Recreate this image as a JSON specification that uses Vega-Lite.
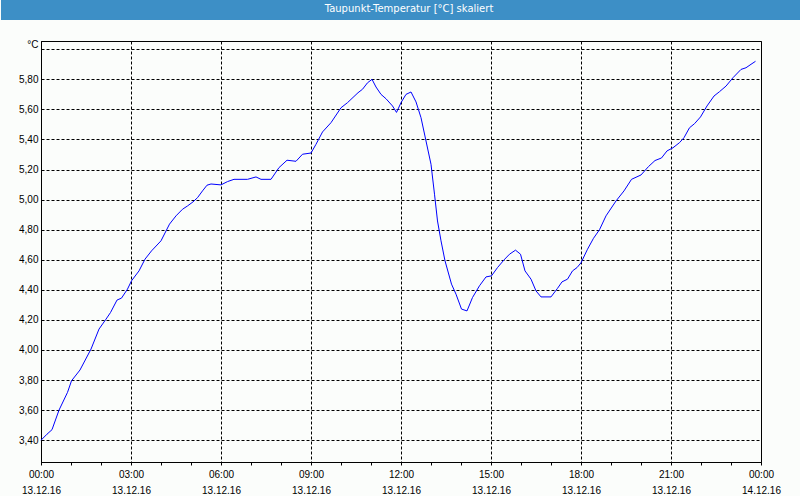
{
  "$schema": "https://vega.github.io/schema/vega-lite/v6.json",
  "padding": 0,
  "spacing": 18,
  "background": "#fbfdfb",
  "vconcat": [
    {
      "width": 720,
      "height": 20,
      "view": {"stroke": null},
      "data": {"values": [{"title": "Taupunkt-Temperatur [°C] skaliert"}]},
      "layer": [
        {
          "mark": {"type": "rect", "color": "#3d8fc6", "xOffset": -40, "x2Offset": 40},
          "encoding": {
            "x": {"datum": 0, "type": "quantitative", "scale": {"domain": [0, 1], "nice": false, "zero": false}, "axis": null},
            "x2": {"datum": 1}
          }
        },
        {
          "mark": {"type": "text", "color": "#ffffff", "font": "DejaVu Sans", "fontSize": 10, "dx": 8, "dy": -1, "baseline": "middle", "align": "center"},
          "encoding": {
            "x": {"datum": 0.5, "type": "quantitative"},
            "text": {"field": "title", "type": "nominal"}
          }
        }
      ]
    },
    {
      "width": 720,
      "height": 421,
      "view": {"fill": "#fbfdfb", "stroke": "#000000", "strokeWidth": 1},
      "data": {"values": [
        {"t": "2016-12-13T00:00", "v": 3.40},
        {"t": "2016-12-13T00:12", "v": 3.44},
        {"t": "2016-12-13T00:22", "v": 3.47},
        {"t": "2016-12-13T00:36", "v": 3.60},
        {"t": "2016-12-13T00:53", "v": 3.718},
        {"t": "2016-12-13T01:01", "v": 3.795},
        {"t": "2016-12-13T01:18", "v": 3.867},
        {"t": "2016-12-13T01:40", "v": 4.006},
        {"t": "2016-12-13T01:56", "v": 4.139},
        {"t": "2016-12-13T02:10", "v": 4.205},
        {"t": "2016-12-13T02:19", "v": 4.249},
        {"t": "2016-12-13T02:32", "v": 4.332},
        {"t": "2016-12-13T02:41", "v": 4.345},
        {"t": "2016-12-13T02:53", "v": 4.405},
        {"t": "2016-12-13T03:01", "v": 4.46},
        {"t": "2016-12-13T03:16", "v": 4.526},
        {"t": "2016-12-13T03:28", "v": 4.604},
        {"t": "2016-12-13T03:41", "v": 4.659},
        {"t": "2016-12-13T04:00", "v": 4.726},
        {"t": "2016-12-13T04:17", "v": 4.837},
        {"t": "2016-12-13T04:30", "v": 4.892},
        {"t": "2016-12-13T04:43", "v": 4.936},
        {"t": "2016-12-13T04:53", "v": 4.958},
        {"t": "2016-12-13T05:04", "v": 4.985},
        {"t": "2016-12-13T05:13", "v": 5.013},
        {"t": "2016-12-13T05:23", "v": 5.058},
        {"t": "2016-12-13T05:32", "v": 5.096},
        {"t": "2016-12-13T05:40", "v": 5.104},
        {"t": "2016-12-13T06:00", "v": 5.098},
        {"t": "2016-12-13T06:13", "v": 5.12},
        {"t": "2016-12-13T06:26", "v": 5.135},
        {"t": "2016-12-13T06:53", "v": 5.135},
        {"t": "2016-12-13T07:10", "v": 5.151},
        {"t": "2016-12-13T07:20", "v": 5.135},
        {"t": "2016-12-13T07:40", "v": 5.135},
        {"t": "2016-12-13T07:56", "v": 5.213},
        {"t": "2016-12-13T08:12", "v": 5.262},
        {"t": "2016-12-13T08:30", "v": 5.255},
        {"t": "2016-12-13T08:43", "v": 5.302},
        {"t": "2016-12-13T09:00", "v": 5.31},
        {"t": "2016-12-13T09:10", "v": 5.368},
        {"t": "2016-12-13T09:23", "v": 5.45},
        {"t": "2016-12-13T09:40", "v": 5.512},
        {"t": "2016-12-13T10:00", "v": 5.611},
        {"t": "2016-12-13T10:13", "v": 5.645},
        {"t": "2016-12-13T10:34", "v": 5.711},
        {"t": "2016-12-13T10:43", "v": 5.734},
        {"t": "2016-12-13T10:53", "v": 5.777},
        {"t": "2016-12-13T11:02", "v": 5.80},
        {"t": "2016-12-13T11:10", "v": 5.749},
        {"t": "2016-12-13T11:20", "v": 5.70},
        {"t": "2016-12-13T11:30", "v": 5.671},
        {"t": "2016-12-13T11:43", "v": 5.623},
        {"t": "2016-12-13T11:51", "v": 5.58},
        {"t": "2016-12-13T12:00", "v": 5.645},
        {"t": "2016-12-13T12:10", "v": 5.70},
        {"t": "2016-12-13T12:20", "v": 5.716},
        {"t": "2016-12-13T12:30", "v": 5.65},
        {"t": "2016-12-13T12:40", "v": 5.545},
        {"t": "2016-12-13T12:50", "v": 5.39},
        {"t": "2016-12-13T13:00", "v": 5.235},
        {"t": "2016-12-13T13:07", "v": 5.036},
        {"t": "2016-12-13T13:13", "v": 4.858},
        {"t": "2016-12-13T13:20", "v": 4.726},
        {"t": "2016-12-13T13:28", "v": 4.593},
        {"t": "2016-12-13T13:41", "v": 4.438},
        {"t": "2016-12-13T13:50", "v": 4.371},
        {"t": "2016-12-13T14:01", "v": 4.272},
        {"t": "2016-12-13T14:12", "v": 4.26},
        {"t": "2016-12-13T14:23", "v": 4.349},
        {"t": "2016-12-13T14:37", "v": 4.427},
        {"t": "2016-12-13T14:50", "v": 4.486},
        {"t": "2016-12-13T15:01", "v": 4.493},
        {"t": "2016-12-13T15:13", "v": 4.548},
        {"t": "2016-12-13T15:26", "v": 4.599},
        {"t": "2016-12-13T15:37", "v": 4.637},
        {"t": "2016-12-13T15:49", "v": 4.664},
        {"t": "2016-12-13T15:59", "v": 4.637},
        {"t": "2016-12-13T16:08", "v": 4.526},
        {"t": "2016-12-13T16:20", "v": 4.471},
        {"t": "2016-12-13T16:30", "v": 4.393},
        {"t": "2016-12-13T16:40", "v": 4.353},
        {"t": "2016-12-13T17:00", "v": 4.353},
        {"t": "2016-12-13T17:13", "v": 4.41},
        {"t": "2016-12-13T17:22", "v": 4.453},
        {"t": "2016-12-13T17:33", "v": 4.471},
        {"t": "2016-12-13T17:43", "v": 4.526},
        {"t": "2016-12-13T17:52", "v": 4.548},
        {"t": "2016-12-13T18:00", "v": 4.58},
        {"t": "2016-12-13T18:13", "v": 4.67},
        {"t": "2016-12-13T18:25", "v": 4.743},
        {"t": "2016-12-13T18:37", "v": 4.80},
        {"t": "2016-12-13T18:50", "v": 4.892},
        {"t": "2016-12-13T19:10", "v": 4.991},
        {"t": "2016-12-13T19:26", "v": 5.058},
        {"t": "2016-12-13T19:41", "v": 5.135},
        {"t": "2016-12-13T20:00", "v": 5.164},
        {"t": "2016-12-13T20:15", "v": 5.22},
        {"t": "2016-12-13T20:28", "v": 5.26},
        {"t": "2016-12-13T20:41", "v": 5.277},
        {"t": "2016-12-13T20:52", "v": 5.324},
        {"t": "2016-12-13T21:04", "v": 5.345},
        {"t": "2016-12-13T21:17", "v": 5.379},
        {"t": "2016-12-13T21:26", "v": 5.412},
        {"t": "2016-12-13T21:37", "v": 5.478},
        {"t": "2016-12-13T21:47", "v": 5.505},
        {"t": "2016-12-13T21:59", "v": 5.55},
        {"t": "2016-12-13T22:12", "v": 5.623},
        {"t": "2016-12-13T22:26", "v": 5.689},
        {"t": "2016-12-13T22:37", "v": 5.718},
        {"t": "2016-12-13T22:50", "v": 5.755},
        {"t": "2016-12-13T23:04", "v": 5.811},
        {"t": "2016-12-13T23:20", "v": 5.866},
        {"t": "2016-12-13T23:30", "v": 5.877},
        {"t": "2016-12-13T23:40", "v": 5.90},
        {"t": "2016-12-13T23:49", "v": 5.92}
      ]},
      "mark": {"type": "line", "color": "#0000ff", "strokeWidth": 1, "interpolate": "linear"},
      "encoding": {
        "x": {
          "field": "t",
          "type": "temporal",
          "title": null,
          "scale": {
            "domain": [
              {"year": 2016, "month": 12, "date": 13, "hours": 0},
              {"year": 2016, "month": 12, "date": 14, "hours": 0}
            ],
            "nice": false
          },
          "axis": {
            "values": [
              {"year": 2016, "month": 12, "date": 13, "hours": 0},
              {"year": 2016, "month": 12, "date": 13, "hours": 1},
              {"year": 2016, "month": 12, "date": 13, "hours": 2},
              {"year": 2016, "month": 12, "date": 13, "hours": 3},
              {"year": 2016, "month": 12, "date": 13, "hours": 4},
              {"year": 2016, "month": 12, "date": 13, "hours": 5},
              {"year": 2016, "month": 12, "date": 13, "hours": 6},
              {"year": 2016, "month": 12, "date": 13, "hours": 7},
              {"year": 2016, "month": 12, "date": 13, "hours": 8},
              {"year": 2016, "month": 12, "date": 13, "hours": 9},
              {"year": 2016, "month": 12, "date": 13, "hours": 10},
              {"year": 2016, "month": 12, "date": 13, "hours": 11},
              {"year": 2016, "month": 12, "date": 13, "hours": 12},
              {"year": 2016, "month": 12, "date": 13, "hours": 13},
              {"year": 2016, "month": 12, "date": 13, "hours": 14},
              {"year": 2016, "month": 12, "date": 13, "hours": 15},
              {"year": 2016, "month": 12, "date": 13, "hours": 16},
              {"year": 2016, "month": 12, "date": 13, "hours": 17},
              {"year": 2016, "month": 12, "date": 13, "hours": 18},
              {"year": 2016, "month": 12, "date": 13, "hours": 19},
              {"year": 2016, "month": 12, "date": 13, "hours": 20},
              {"year": 2016, "month": 12, "date": 13, "hours": 21},
              {"year": 2016, "month": 12, "date": 13, "hours": 22},
              {"year": 2016, "month": 12, "date": 13, "hours": 23},
              {"year": 2016, "month": 12, "date": 14, "hours": 0}
            ],
            "labelExpr": "hours(datum.value) % 3 == 0 ? [timeFormat(datum.value, '%H:%M'), timeFormat(datum.value, '%d.%m.%y')] : ''",
            "labelOverlap": false,
            "labelFlush": false,
            "labelFont": "Liberation Sans",
            "labelFontSize": 10,
            "labelColor": "#000000",
            "labelLineHeight": 16,
            "labelPadding": 4,
            "labelBaseline": "top",
            "domainColor": "#000000",
            "tickColor": "#000000",
            "tickSize": 3,
            "grid": true,
            "gridColor": "#000000",
            "gridDash": [3, 2],
            "gridOpacity": {"condition": {"test": "hours(datum.value) % 3 != 0", "value": 0}, "value": 1}
          }
        },
        "y": {
          "field": "v",
          "type": "quantitative",
          "title": null,
          "scale": {"domain": [3.255, 6.055], "nice": false, "zero": false},
          "axis": {
            "values": [3.4, 3.6, 3.8, 4.0, 4.2, 4.4, 4.6, 4.8, 5.0, 5.2, 5.4, 5.6, 5.8, 6.0],
            "labelExpr": "datum.value > 5.9 ? '°C' : replace(format(datum.value, '.2f'), '.', ',')",
            "labelBaseline": {"condition": {"test": "datum.value > 5.9", "value": "bottom"}, "value": "middle"},
            "labelFont": "Liberation Sans",
            "labelFontSize": 10,
            "labelColor": "#000000",
            "labelPadding": 3,
            "ticks": false,
            "minExtent": 40,
            "maxExtent": 40,
            "domainColor": "#000000",
            "grid": true,
            "gridColor": "#000000",
            "gridDash": [3, 2],
            "labelOverlap": false
          }
        }
      }
    }
  ]
}
